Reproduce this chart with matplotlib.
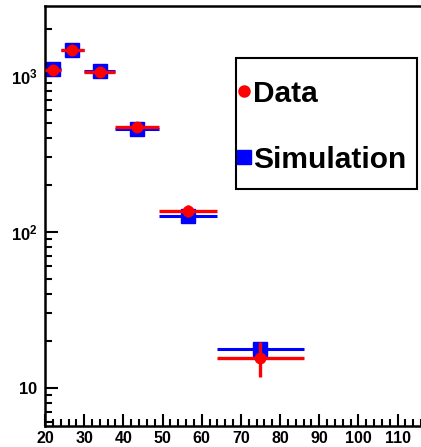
import numpy as np
import matplotlib
matplotlib.use("Agg")
import matplotlib.pyplot as plt
from matplotlib.lines import Line2D
from matplotlib.patches import Rectangle

# Binned measurement vs. simulation
bin_edges = [20, 24, 30, 38, 49, 64, 86]
bin_centers = [22, 27, 34, 43.5, 56.5, 75]
data_vals = [1090, 1460, 1060, 470, 136, 15.6]
data_errs = [33, 38, 33, 22, 12, 3.95]
sim_vals = [1100, 1470, 1080, 455, 127, 17.6]

y_tick_vals = [10, 100, 1000]
y_tick_labels = [r"$\mathbf{10}$", r"$\mathbf{10^{2}}$", r"$\mathbf{10^{3}}$"]
x_tick_vals = [20, 30, 40, 50, 60, 70, 80, 90, 100, 110]
legend_labels = ["Data", "Simulation"]

plt.rcParams["font.family"] = ["Liberation Sans", "DejaVu Sans"]
plt.rcParams["font.weight"] = "bold"
plt.rcParams["mathtext.fontset"] = "custom"
plt.rcParams["mathtext.bf"] = "Liberation Sans:bold"
plt.rcParams["mathtext.rm"] = "Liberation Sans:bold"

W, H = 421, 447
fig = plt.figure(figsize=(W / 100, H / 100), dpi=100)


def fpos(x, y):
    """Pixel position (from top-left) to figure fraction."""
    return x / W, 1 - y / H


ax = fig.add_axes([45 / W, 1 - 425.5 / H, 1 - 45 / W, (425.5 - 6) / H])

centers = np.array(bin_centers)
edges = np.array(bin_edges)
xlo = centers - edges[:-1]
xhi = edges[1:] - centers

RED = "#ff0000"
BLUE = "#0000ff"

ax.errorbar(centers, sim_vals, xerr=[xlo, xhi], fmt="s", color=BLUE,
            ms=9.5, elinewidth=2.2, capsize=0, zorder=2)
ax.errorbar(centers, data_vals, xerr=[xlo, xhi], yerr=data_errs, fmt="o",
            color=RED, ms=7.5, elinewidth=2.4, capsize=0, zorder=3)

ax.set_yscale("log")
ax.set_xlim(20, 116)
ax.set_ylim(5.73, 2800)

ax.set_yticks(y_tick_vals)
ax.set_yticklabels(y_tick_labels)
ax.yaxis.set_minor_locator(matplotlib.ticker.LogLocator(base=10, subs=np.arange(2, 10)))
ax.yaxis.set_minor_formatter(matplotlib.ticker.NullFormatter())
ax.set_xticks(x_tick_vals)
ax.set_xticklabels([str(v) for v in x_tick_vals])
ax.xaxis.set_minor_locator(matplotlib.ticker.MultipleLocator(2))

ax.tick_params(which="major", direction="in", length=9, width=1.5, labelsize=11.5,
               top=False, right=False, pad=4)
ax.tick_params(axis="y", which="major", labelsize=12, pad=5)
ax.tick_params(which="minor", direction="in", length=5, width=1.5, top=False, right=False)
for lab in ax.get_xticklabels() + ax.get_yticklabels():
    lab.set_fontweight("bold")

for side in ["left", "bottom", "top"]:
    ax.spines[side].set_linewidth(1.8)
ax.spines["right"].set_visible(False)

# Legend box drawn in figure space
x0, y0 = fpos(236, 189)
x1, y1 = fpos(417, 58)
fig.add_artist(Rectangle((x0, y0), x1 - x0, y1 - y0, transform=fig.transFigure,
                         facecolor="white", edgecolor="black", linewidth=1.5, zorder=5))
leg_rows = [(90.5, "o", RED, 8), (156.5, "s", BLUE, 9.5)]
for (yc, mk, col, ms), label in zip(leg_rows, legend_labels):
    mx, my = fpos(244, yc)
    fig.add_artist(Line2D([mx], [my], marker=mk, color=col, ms=ms, ls="none",
                          transform=fig.transFigure, zorder=6))
    tx, ty = fpos(253, yc)
    fig.text(tx, ty, label, ha="left", va="center_baseline", fontsize=21.5,
             fontweight="bold", family="Liberation Sans", zorder=6)

fig.savefig("out.png", dpi=100)
